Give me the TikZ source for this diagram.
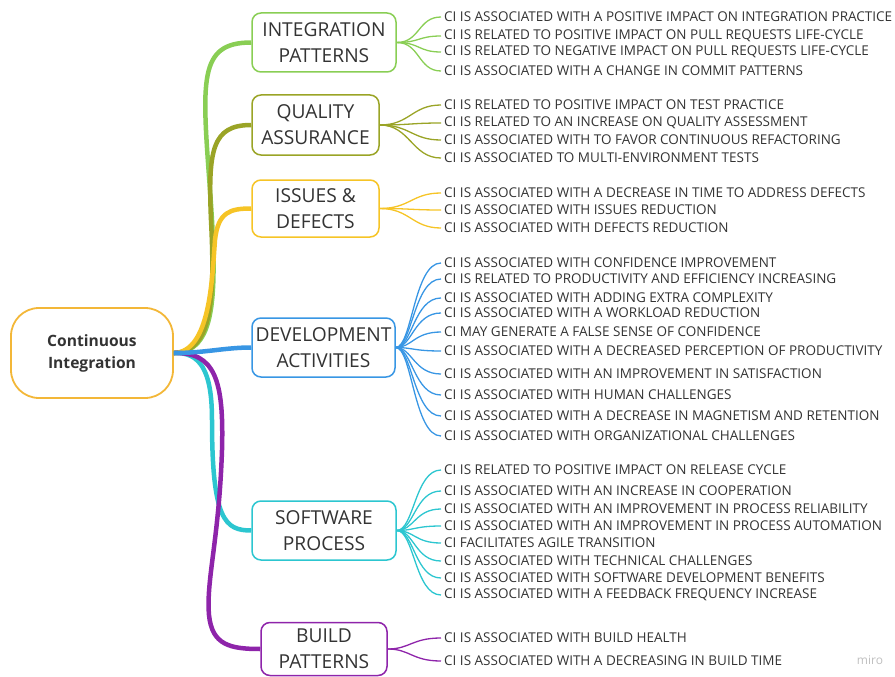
\documentclass[tikz,border=0pt]{standalone}
\usepackage{fontspec}
\setmainfont{Open Sans}
\definecolor{cIP}{RGB}{137,206,84}
\definecolor{cQA}{RGB}{154,164,38}
\definecolor{cID}{RGB}{246,196,38}
\definecolor{cDA}{RGB}{56,150,228}
\definecolor{cSP}{RGB}{44,198,208}
\definecolor{cBP}{RGB}{142,36,170}
\definecolor{cCI}{RGB}{243,183,56}
\definecolor{txt}{RGB}{51,51,51}
\begin{document}
\begin{tikzpicture}[
    x = 1pt, y = -1pt,
    root/.style = {draw = cCI, line width = 1.8pt, rounded corners = 28pt,
      minimum width = 162pt, minimum height = 90pt, align = center,
      text = txt, font = \fontsize{15.6}{22}\selectfont\bfseries},
    cat/.style = {draw, line width = 1.5pt, rounded corners = 9pt,
      align = center, inner sep = 0pt, text = txt,
      font = \fontsize{19.2}{26}\selectfont},
    leaf/.style = {anchor = west, inner sep = 3pt, text = txt, yshift = -1pt,
      font = \fontsize{13.5}{15}\selectfont},
    branch/.style = {line width = 4.5pt},
    twig/.style = {line width = 1.3pt}
  ]
  \useasboundingbox (0,0) rectangle (895,677);

  % Main topic and categories
  \node[root] (ci) at (92,353) {Continuous\\Integration};
  \node[cat, draw = cIP, minimum width = 144pt, minimum height = 59pt] (ip) at (324,42.5) {INTEGRATION\\PATTERNS};
  \node[cat, draw = cQA, minimum width = 127pt, minimum height = 60pt] (qa) at (315.5,125) {QUALITY\\ASSURANCE};
  \node[cat, draw = cID, minimum width = 127pt, minimum height = 57pt] (id) at (315.5,208.5) {ISSUES \&\\DEFECTS};
  \node[cat, draw = cDA, minimum width = 143pt, minimum height = 59pt] (da) at (323.5,347.5) {DEVELOPMENT\\ACTIVITIES};
  \node[cat, draw = cSP, minimum width = 144pt, minimum height = 59pt] (sp) at (324,530.5) {SOFTWARE\\PROCESS};
  \node[cat, draw = cBP, minimum width = 126pt, minimum height = 53pt] (bp) at (324,649) {BUILD\\PATTERNS};

  % Branches
  \draw[branch, cIP] (ci.east) .. controls (215,352) and (218,300) .. (210,190)
    .. controls (202,80) and (198,42.5) .. (ip.west);
  \draw[branch, cQA] (ci.east) .. controls (212,352) and (215,300) .. (211,220)
    .. controls (208,150) and (212,125) .. (qa.west);
  \draw[branch, cID] (ci.east) .. controls (210,352) and (212,280) .. (215,240)
    .. controls (218,212) and (230,208.5) .. (id.west);
  \draw[branch, cSP] (ci.east) .. controls (200,352) and (212,370) .. (212,420)
    .. controls (212,520) and (225,530.5) .. (sp.west);
  \draw[branch, cBP] (ci.east) .. controls (215,352) and (224,380) .. (222,450)
    .. controls (219,540) and (206,580) .. (209,615)
    .. controls (212,645) and (230,649) .. (bp.west);
  \draw[branch, cDA] (ci.east) .. controls (205,353) and (225,347.5) .. (da.west);

  % Integration patterns
  \node[leaf] (ip1) at (441,16) {CI IS ASSOCIATED WITH A POSITIVE IMPACT ON INTEGRATION PRACTICE};
  \node[leaf] (ip2) at (441,35) {CI IS RELATED TO POSITIVE IMPACT ON PULL REQUESTS LIFE-CYCLE};
  \node[leaf] (ip3) at (441,51) {CI IS RELATED TO NEGATIVE IMPACT ON PULL REQUESTS LIFE-CYCLE};
  \node[leaf] (ip4) at (441,70) {CI IS ASSOCIATED WITH A CHANGE IN COMMIT PATTERNS};
  \draw[twig, cIP] (ip.east) .. controls (420,42.5) and (418,17) .. (ip1.west);
  \draw[twig, cIP] (ip.east) .. controls (420,42.5) and (418,36) .. (ip2.west);
  \draw[twig, cIP] (ip.east) .. controls (420,42.5) and (418,52) .. (ip3.west);
  \draw[twig, cIP] (ip.east) .. controls (420,42.5) and (418,71) .. (ip4.west);

  % Quality assurance
  \node[leaf] (qa1) at (441,104) {CI IS RELATED TO POSITIVE IMPACT ON TEST PRACTICE};
  \node[leaf] (qa2) at (441,122) {CI IS RELATED TO AN INCREASE ON QUALITY ASSESSMENT};
  \node[leaf] (qa3) at (441,139) {CI IS ASSOCIATED WITH TO FAVOR CONTINUOUS REFACTORING};
  \node[leaf] (qa4) at (441,157) {CI IS ASSOCIATED TO MULTI-ENVIRONMENT TESTS};
  \draw[twig, cQA] (qa.east) .. controls (410,125) and (412,105) .. (qa1.west);
  \draw[twig, cQA] (qa.east) .. controls (410,125) and (412,123) .. (qa2.west);
  \draw[twig, cQA] (qa.east) .. controls (410,125) and (412,140) .. (qa3.west);
  \draw[twig, cQA] (qa.east) .. controls (410,125) and (412,158) .. (qa4.west);

  % Issues and defects
  \node[leaf] (id1) at (441,192) {CI IS ASSOCIATED WITH A DECREASE IN TIME TO ADDRESS DEFECTS};
  \node[leaf] (id2) at (441,209) {CI IS ASSOCIATED WITH ISSUES REDUCTION};
  \node[leaf] (id3) at (441,227) {CI IS ASSOCIATED WITH DEFECTS REDUCTION};
  \draw[twig, cID] (id.east) .. controls (410,208.5) and (412,193) .. (id1.west);
  \draw[twig, cID] (id.east) .. controls (410,208.5) and (412,210) .. (id2.west);
  \draw[twig, cID] (id.east) .. controls (410,208.5) and (412,228) .. (id3.west);

  % Development activities
  \node[leaf] (da1) at (441,262) {CI IS ASSOCIATED WITH CONFIDENCE IMPROVEMENT};
  \node[leaf] (da2) at (441,278) {CI IS RELATED TO PRODUCTIVITY AND EFFICIENCY INCREASING};
  \node[leaf] (da3) at (441,297) {CI IS ASSOCIATED WITH ADDING EXTRA COMPLEXITY};
  \node[leaf] (da4) at (441,312) {CI IS ASSOCIATED WITH A WORKLOAD REDUCTION};
  \node[leaf] (da5) at (441,331) {CI MAY GENERATE A FALSE SENSE OF CONFIDENCE};
  \node[leaf] (da6) at (441,350) {CI IS ASSOCIATED WITH A DECREASED PERCEPTION OF PRODUCTIVITY};
  \node[leaf] (da7) at (441,373) {CI IS ASSOCIATED WITH AN IMPROVEMENT IN SATISFACTION};
  \node[leaf] (da8) at (441,394) {CI IS ASSOCIATED WITH HUMAN CHALLENGES};
  \node[leaf] (da9) at (441,415) {CI IS ASSOCIATED WITH A DECREASE IN MAGNETISM AND RETENTION};
  \node[leaf] (da10) at (441,435) {CI IS ASSOCIATED WITH ORGANIZATIONAL CHALLENGES};
  \draw[twig, cDA] (da.east) .. controls (412,347.5) and (414,263) .. (da1.west);
  \draw[twig, cDA] (da.east) .. controls (412,347.5) and (414,279) .. (da2.west);
  \draw[twig, cDA] (da.east) .. controls (412,347.5) and (414,298) .. (da3.west);
  \draw[twig, cDA] (da.east) .. controls (412,347.5) and (414,313) .. (da4.west);
  \draw[twig, cDA] (da.east) .. controls (412,347.5) and (414,332) .. (da5.west);
  \draw[twig, cDA] (da.east) .. controls (412,347.5) and (414,351) .. (da6.west);
  \draw[twig, cDA] (da.east) .. controls (412,347.5) and (414,374) .. (da7.west);
  \draw[twig, cDA] (da.east) .. controls (412,347.5) and (414,395) .. (da8.west);
  \draw[twig, cDA] (da.east) .. controls (412,347.5) and (414,416) .. (da9.west);
  \draw[twig, cDA] (da.east) .. controls (412,347.5) and (414,436) .. (da10.west);

  % Software process
  \node[leaf] (sp1) at (441,469) {CI IS RELATED TO POSITIVE IMPACT ON RELEASE CYCLE};
  \node[leaf] (sp2) at (441,490) {CI IS ASSOCIATED WITH AN INCREASE IN COOPERATION};
  \node[leaf] (sp3) at (441,508) {CI IS ASSOCIATED WITH AN IMPROVEMENT IN PROCESS RELIABILITY};
  \node[leaf] (sp4) at (441,525) {CI IS ASSOCIATED WITH AN IMPROVEMENT IN PROCESS AUTOMATION};
  \node[leaf] (sp5) at (441,542) {CI FACILITATES AGILE TRANSITION};
  \node[leaf] (sp6) at (441,560) {CI IS ASSOCIATED WITH TECHNICAL CHALLENGES};
  \node[leaf] (sp7) at (441,577) {CI IS ASSOCIATED WITH SOFTWARE DEVELOPMENT BENEFITS};
  \node[leaf] (sp8) at (441,594) {CI IS ASSOCIATED WITH A FEEDBACK FREQUENCY INCREASE};
  \draw[twig, cSP] (sp.east) .. controls (414,530.5) and (415,470) .. (sp1.west);
  \draw[twig, cSP] (sp.east) .. controls (414,530.5) and (415,491) .. (sp2.west);
  \draw[twig, cSP] (sp.east) .. controls (414,530.5) and (415,509) .. (sp3.west);
  \draw[twig, cSP] (sp.east) .. controls (414,530.5) and (415,526) .. (sp4.west);
  \draw[twig, cSP] (sp.east) .. controls (414,530.5) and (415,543) .. (sp5.west);
  \draw[twig, cSP] (sp.east) .. controls (414,530.5) and (415,561) .. (sp6.west);
  \draw[twig, cSP] (sp.east) .. controls (414,530.5) and (415,578) .. (sp7.west);
  \draw[twig, cSP] (sp.east) .. controls (414,530.5) and (415,595) .. (sp8.west);

  % Build patterns
  \node[leaf] (bp1) at (441,637) {CI IS ASSOCIATED WITH BUILD HEALTH};
  \node[leaf] (bp2) at (441,660) {CI IS ASSOCIATED WITH A DECREASING IN BUILD TIME};
  \draw[twig, cBP] (bp.east) .. controls (410,649) and (412,638) .. (bp1.west);
  \draw[twig, cBP] (bp.east) .. controls (410,649) and (412,661) .. (bp2.west);

  \node[text = black!25, font = \fontsize{12}{14}\selectfont] (miro) at (870,660) {miro};
\end{tikzpicture}
\end{document}
